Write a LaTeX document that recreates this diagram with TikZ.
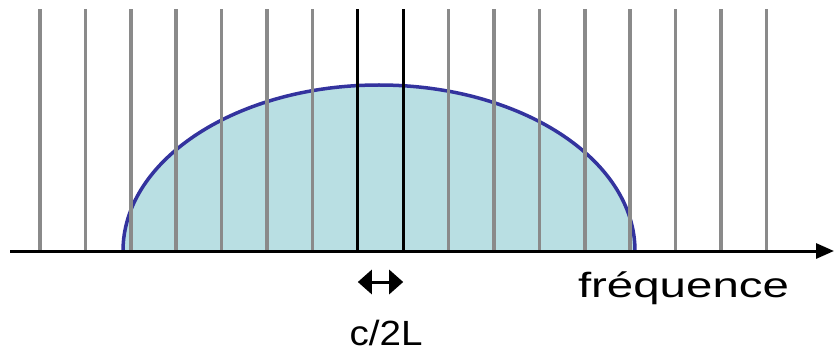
\documentclass[tikz,border=0pt]{standalone}
\usepackage{fontspec}
\setmainfont{Liberation Sans}
\usetikzlibrary{arrows.meta,positioning,calc}
\definecolor{bandfill}{HTML}{B9DFE3}
\definecolor{bandedge}{HTML}{33339E}
\definecolor{modegray}{HTML}{8A8A8A}
\tikzset{
  modeline/.style={draw=modegray, line width=3.5pt},
  keyline/.style={draw=black, line width=3pt},
  gainband/.style={fill=bandfill, draw=bandedge, line width=3.5pt},
  axisarr/.style={-{Triangle[length=18pt, width=15pt]}, line width=3pt},
  gaparr/.style={{Triangle[length=14pt, width=24pt]}-{Triangle[length=14pt, width=24pt]}, line width=3pt},
  lbl/.style={inner sep=0pt, anchor=base, font=\fontsize{35}{35}\selectfont}}

\begin{document}
\begin{tikzpicture}[x=1pt, y=1pt]
  \useasboundingbox (0,0) rectangle (834,351);
  % gain curve
  \filldraw[gainband] (123,100) arc[start angle=180, end angle=0, x radius=256, y radius=166];
  % cavity modes
  \foreach \i in {0,...,6,9,10,...,16}
    \draw[modeline] (40+\i*45.4,99) -- ++(0,243);
  \coordinate (modeA) at (357.8,99);
  \coordinate (modeB) at (403.2,99);
  \draw[keyline] (modeA) -- ++(0,243);
  \draw[keyline] (modeB) -- ++(0,243);
  % axis
  \coordinate (origin) at (10,100);
  \coordinate (tip) at (834,100);
  \draw[axisarr] (origin) -- (tip);
  % spacing
  \coordinate (gapL) at ($(modeA)+(0,-30)$);
  \coordinate (gapR) at ($(modeB)+(0,-30)$);
  \draw[gaparr] (gapL) -- (gapR);
  \node[lbl] (gaplabel) at (386,6) {\resizebox{73pt}{\height}{c/2L}};
  \node[lbl] (freqlabel) at (683.5,54) {\resizebox{211pt}{\height}{fréquence}};
\end{tikzpicture}
\end{document}
